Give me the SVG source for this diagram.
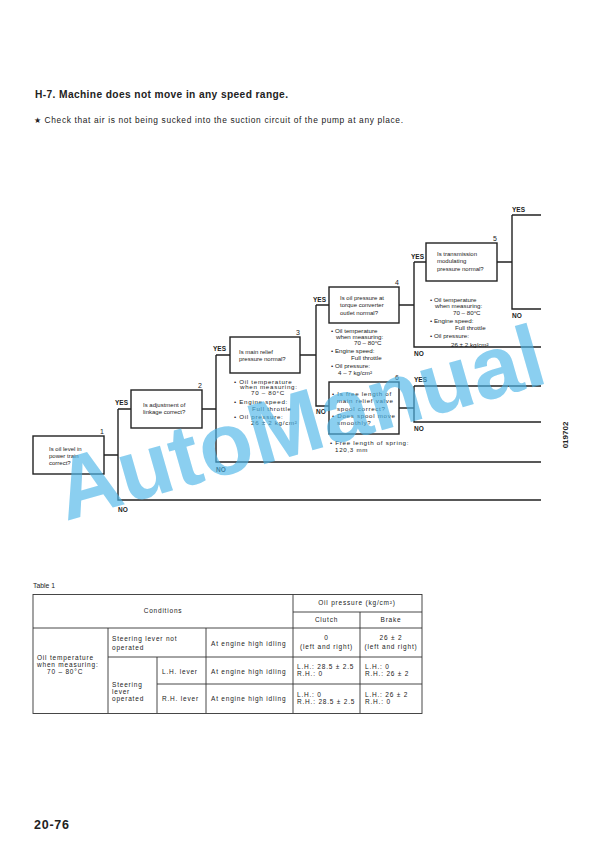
<svg xmlns="http://www.w3.org/2000/svg" width="612" height="866" viewBox="0 0 612 866">
<style>
text{font-family:"Liberation Sans",Arial,sans-serif;fill:#222}
.bx{fill:#fff;stroke:#222;stroke-width:1.4}
.ln{fill:none;stroke:#222;stroke-width:1.4}
.tl{fill:none;stroke:#333;stroke-width:0.9}
.q{font-size:6px}
.n{font-size:6.2px}
.nb{font-size:6.2px;letter-spacing:0.7px}
.lb{font-size:6.5px;font-weight:bold}
.num{font-size:7px;text-anchor:end}
.t{font-size:6.5px;letter-spacing:0.8px}
.tc{font-size:6.5px;letter-spacing:0.8px;text-anchor:middle}
.wm{fill:#4db6e8;fill-opacity:0.65;font-size:88px;font-weight:bold}
</style>
<rect width="612" height="866" fill="#fff"/>
<text x="35" y="97.5" font-size="10.2" font-weight="bold" textLength="253" lengthAdjust="spacing">H-7.  Machine does not move in any speed range.</text>
<text x="34" y="123" font-size="8.4" textLength="369" lengthAdjust="spacing">★  Check that air is not being sucked into the suction circuit of the pump at any place.</text>

<g id="connectors">
<path class="ln" d="M104 455H118M118 409V500H541M118 409H131"/>
<path class="ln" d="M202 409H216M216 355V462H541M216 355H230"/>
<path class="ln" d="M300 355H316M316 305V406H329M316 305H329"/>
<path class="ln" d="M399 305H414M414 262V347H541M414 262H426"/>
<path class="ln" d="M497 262H512M512 215V309H541M512 215H541"/>
<path class="ln" d="M399 408H414M414 386V422H541M414 386H541"/>
<g class="lb">
<text x="115" y="405">YES</text><text x="118" y="512">NO</text>
<text x="213" y="351">YES</text><text x="216" y="472">NO</text>
<text x="313" y="302">YES</text><text x="316" y="414">NO</text>
<text x="411" y="259">YES</text><text x="414" y="356">NO</text>
<text x="512" y="212">YES</text><text x="512" y="318">NO</text>
<text x="414" y="382">YES</text><text x="414" y="431">NO</text>
</g>
</g>

<g id="node1">
<rect class="bx" x="33" y="436" width="71" height="38"/>
<text class="num" x="104" y="434">1</text>
<text class="q" x="49" y="451">Is oil level in</text>
<text class="q" x="49" y="458">power train</text>
<text class="q" x="49" y="465">correct?</text>
</g>

<g id="node2">
<rect class="bx" x="131" y="390" width="71" height="38"/>
<text class="num" x="202" y="388">2</text>
<text class="q" x="143" y="407">Is adjustment of</text>
<text class="q" x="143" y="414">linkage correct?</text>
</g>

<g id="node3">
<rect class="bx" x="230" y="337" width="70" height="36"/>
<text class="num" x="300" y="335">3</text>
<text class="q" x="239" y="353.5">Is main relief</text>
<text class="q" x="239" y="361">pressure normal?</text>
<g class="nb">
<text x="234" y="383.5">•  Oil temperature</text>
<text x="240" y="389.3">when measuring:</text>
<text x="251" y="395">70 – 80°C</text>
<text x="234" y="404">•  Engine speed:</text>
<text x="252" y="411">Full throttle</text>
<text x="234" y="418.5">•  Oil pressure:</text>
<text x="251" y="425">26 ± 2 kg/cm²</text>
</g>
</g>

<g id="node4">
<rect class="bx" x="329" y="287" width="70" height="36"/>
<text class="num" x="399" y="285">4</text>
<text class="q" x="340" y="299.5">Is oil pressure at</text>
<text class="q" x="340" y="307">torque converter</text>
<text class="q" x="340" y="314.5">outlet normal?</text>
<g class="n">
<text x="331" y="333">•  Oil temperature</text>
<text x="336" y="339">when measuring:</text>
<text x="354" y="345">70 – 80°C</text>
<text x="331" y="353">•  Engine speed:</text>
<text x="351" y="360">Full throttle</text>
<text x="331" y="368">•  Oil pressure:</text>
<text x="338" y="375">4 – 7 kg/cm²</text>
</g>
</g>

<g id="node5">
<rect class="bx" x="426" y="243" width="71" height="38"/>
<text class="num" x="497" y="241">5</text>
<text class="q" x="437" y="255.5">Is transmission</text>
<text class="q" x="437" y="263">modulating</text>
<text class="q" x="437" y="270.5">pressure normal?</text>
<g class="n">
<text x="430" y="301.5">•  Oil temperature</text>
<text x="435" y="308">when measuring:</text>
<text x="453" y="315">70 – 80°C</text>
<text x="430" y="323">•  Engine speed:</text>
<text x="455" y="330">Full throttle</text>
<text x="430" y="337.5">•  Oil pressure:</text>
<text x="451" y="346.5">26 ± 2 kg/cm²</text>
</g>
</g>

<g id="node6">
<rect class="bx" x="329" y="382" width="70" height="52"/>
<text class="num" x="399" y="380">6</text>
<g class="nb">
<text x="332" y="396">•  Is free length of</text>
<text x="337" y="403.3">main relief valve</text>
<text x="337" y="410.6">spool correct?</text>
<text x="332" y="418">•  Does spool move</text>
<text x="337" y="425.3">smoothly?</text>
<text x="330" y="445">•  Free length of spring:</text>
<text x="335" y="452">120,3 mm</text>
</g>
</g>

<g id="table1">
<text x="33" y="588" font-size="6.8">Table 1</text>
<rect class="tl" x="33" y="594.5" width="389" height="119" stroke-width="1.1"/>
<path class="tl" d="M33 628H422M108 657H422M157 684H422M293 612H422M108 628V713M157 657V713M206 628V713M293 594.5V713M360 612V713"/>
<text class="tc" x="163" y="613">Conditions</text>
<text class="tc" x="357" y="605">Oil pressure (kg/cm²)</text>
<text class="tc" x="326.5" y="622">Clutch</text>
<text class="tc" x="391" y="622">Brake</text>
<text class="t" x="37" y="660">Oil temperature</text>
<text class="t" x="37" y="667">when measuring:</text>
<text class="t" x="47" y="674">70 – 80°C</text>
<text class="t" x="112" y="640.5">Steering lever not</text>
<text class="t" x="112" y="650">operated</text>
<text class="t" x="112" y="687">Steering</text>
<text class="t" x="112" y="694">lever</text>
<text class="t" x="112" y="701">operated</text>
<text class="t" x="162" y="673.5">L.H. lever</text>
<text class="t" x="162" y="700.5">R.H. lever</text>
<text class="t" x="211" y="645.5">At engine high idling</text>
<text class="t" x="211" y="673.5">At engine high idling</text>
<text class="t" x="211" y="700.5">At engine high idling</text>
<text class="tc" x="326.5" y="640">0</text>
<text class="tc" x="326.5" y="648.5">(left and right)</text>
<text class="tc" x="391" y="640">26 ± 2</text>
<text class="tc" x="391" y="648.5">(left and right)</text>
<text class="t" x="297" y="669">L.H.: 28.5 ± 2.5</text>
<text class="t" x="297" y="676">R.H.: 0</text>
<text class="t" x="365" y="669">L.H.: 0</text>
<text class="t" x="365" y="676">R.H.: 26 ± 2</text>
<text class="t" x="297" y="697">L.H.: 0</text>
<text class="t" x="297" y="704">R.H.: 28.5 ± 2.5</text>
<text class="t" x="365" y="697">L.H.: 26 ± 2</text>
<text class="t" x="365" y="704">R.H.: 0</text>
</g>

<text x="568" y="435" font-size="8" font-weight="bold" text-anchor="middle" transform="rotate(-90 568 435)" fill="#333">019702</text>
<text x="34" y="828.5" font-size="12.5" font-weight="bold" textLength="35">20-76</text>

<text class="wm" x="66" y="521" transform="rotate(-16 66 521)">AutoManual</text>
</svg>
